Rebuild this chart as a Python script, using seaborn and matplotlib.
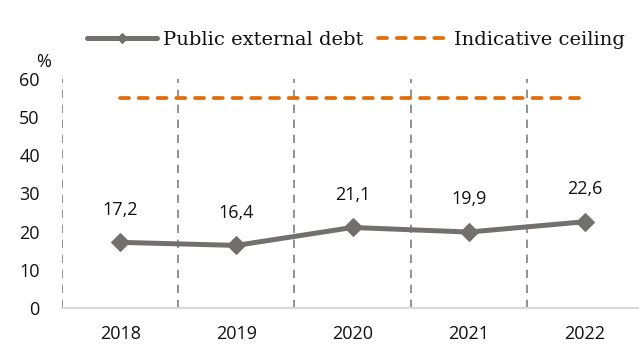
import matplotlib
matplotlib.use("Agg")
import matplotlib.pyplot as plt
import seaborn as sns
import pandas as pd
import numpy as np

# Data
years = ["2018", "2019", "2020", "2021", "2022"]
public_external_debt = [17.2, 16.4, 21.1, 19.9, 22.6]
indicative_ceiling = [55, 55, 55, 55, 55]
debt_labels = ["17,2", "16,4", "21,1", "19,9", "22,6"]
y_ticks = [0, 10, 20, 30, 40, 50, 60]

sns.set_theme(style="white")
plt.rcParams["font.family"] = ["Open Sans", "DejaVu Sans"]

df = pd.DataFrame({
    "year": years,
    "Public external debt": public_external_debt,
    "Indicative ceiling": indicative_ceiling,
})

fig = plt.figure(figsize=(6.39, 3.44), dpi=100)
ax = fig.add_axes([62 / 639, 36 / 344, 577 / 639, 229 / 344])

gray = "#736F6F"
orange = "#E36C0A"

sns.lineplot(data=df, x="year", y="Indicative ceiling", ax=ax, color=orange,
             linewidth=2.7, dashes=False, label="Indicative ceiling")
ceil_line = ax.lines[-1]
ceil_line.set_dashes((2.4, 2.6))
ceil_line.set_dash_capstyle("round")

sns.lineplot(data=df, x="year", y="Public external debt", ax=ax, color=gray,
             linewidth=3.6, marker="D", markersize=9, markeredgecolor=gray,
             label="Public external debt")

for i, (v, lab) in enumerate(zip(public_external_debt, debt_labels)):
    ax.annotate(lab, (i, v), xytext=(0, 17), textcoords="offset points",
                ha="center", va="bottom", fontsize=13, color="#111111")

ax.set_xlim(-0.5, 4.5 - 4 / 116)
ax.set_ylim(0, 60)
ax.set_yticks(y_ticks)
ax.set_xticks(range(len(years)))
ax.set_xticklabels(years)
ax.set_xlabel("")
ax.set_ylabel("")

# Vertical dashed separators between years
ax.set_xticks(np.arange(-0.5, 4.5, 1.0), minor=True)
ax.grid(False)
ax.grid(axis="x", which="minor", color="#7F7F7F", linestyle=(0, (5, 4)),
        linewidth=1.2)
ax.set_axisbelow(True)

for s in ["top", "right", "left"]:
    ax.spines[s].set_visible(False)
ax.spines["bottom"].set_color("#D9D9D9")
ax.spines["bottom"].set_linewidth(1.5)

ax.tick_params(axis="both", which="both", length=0, labelsize=13,
               colors="#111111")
ax.tick_params(axis="y", pad=16)
ax.tick_params(axis="x", pad=12.5)

fig.text(44 / 639, 1 - 62 / 344, "%", ha="center", va="center",
         fontsize=13, color="#111111")

handles, labels = ax.get_legend_handles_labels()
order = [labels.index("Public external debt"), labels.index("Indicative ceiling")]
leg = ax.legend([handles[i] for i in order], [labels[i] for i in order],
                loc="center", bbox_to_anchor=(356 / 639, 1 - 40 / 344),
                bbox_transform=fig.transFigure, ncol=2, frameon=False,
                prop={"family": "DejaVu Serif", "size": 14},
                handlelength=3.6, handletextpad=0.3, columnspacing=0.75,
                markerscale=0.6)
for t in leg.get_texts():
    t.set_color("#111111")

fig.savefig("out.png", dpi=100)
